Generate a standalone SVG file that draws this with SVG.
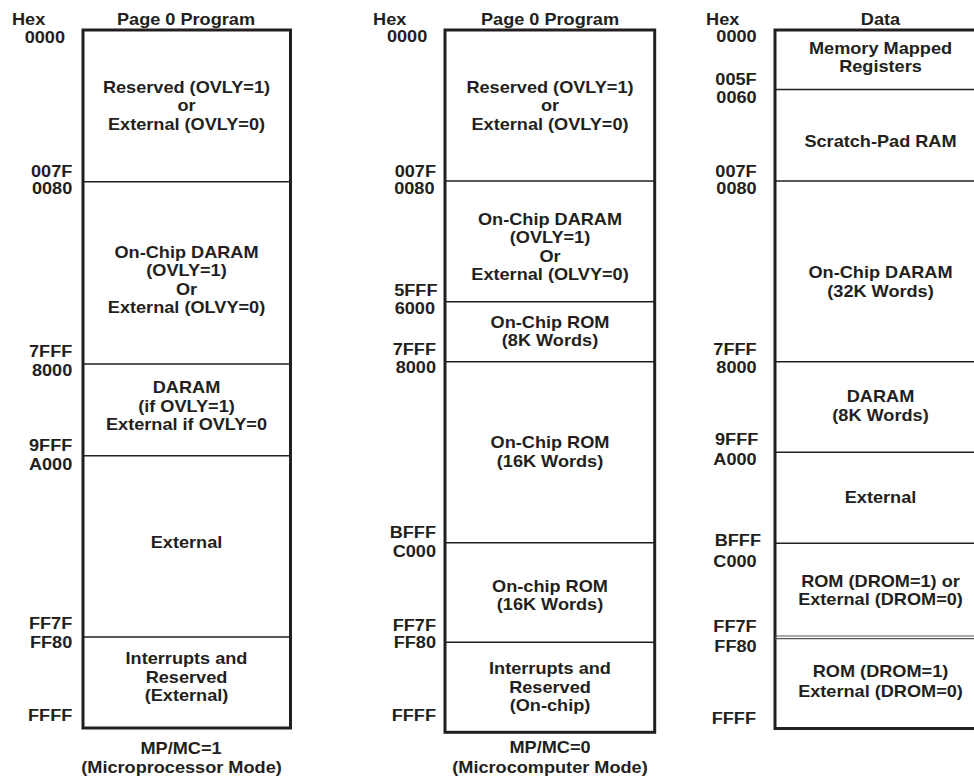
<svg xmlns="http://www.w3.org/2000/svg" width="974" height="780" viewBox="0 0 974 780">
<style>
text{font-family:"Liberation Sans",Arial,sans-serif;font-weight:bold;font-size:16.5px;fill:#231f20}
.c{text-anchor:middle}
.r{text-anchor:end}
.l{text-anchor:start}
.box{fill:#fff;stroke:#231f20;stroke-width:3}
.div{stroke:#231f20;stroke-width:1.5}
.dbl{stroke:#555;stroke-width:1.2}
</style>
<rect width="974" height="780" fill="#fff"/>
<g id="connectors"/>

<g id="panel-microprocessor">
  <rect class="box" x="83" y="30" width="207.5" height="698"/>
  <line class="div" x1="83" y1="181.7" x2="290.5" y2="181.7"/>
  <line class="div" x1="83" y1="364" x2="290.5" y2="364"/>
  <line class="div" x1="83" y1="455.7" x2="290.5" y2="455.7"/>
  <line class="div" x1="83" y1="637" x2="290.5" y2="637"/>
  <g id="p1-header">
    <text class="l" transform="translate(12 25) scale(1.1 1)">Hex</text>
    <text class="c" transform="translate(186 25) scale(1.1 1)">Page 0 Program</text>
  </g>
  <g id="p1-addr">
    <text class="r" transform="translate(65 42.5) scale(1.1 1)">0000</text>
    <text class="r" transform="translate(72.3 176.7) scale(1.1 1)">007F</text>
    <text class="r" transform="translate(72.3 194.3) scale(1.1 1)">0080</text>
    <text class="r" transform="translate(72.3 357.3) scale(1.1 1)">7FFF</text>
    <text class="r" transform="translate(72.3 375.7) scale(1.1 1)">8000</text>
    <text class="r" transform="translate(72.3 451) scale(1.1 1)">9FFF</text>
    <text class="r" transform="translate(72.3 470) scale(1.1 1)">A000</text>
    <text class="r" transform="translate(72.3 629.3) scale(1.1 1)">FF7F</text>
    <text class="r" transform="translate(72.3 647.7) scale(1.1 1)">FF80</text>
    <text class="r" transform="translate(72.3 720.7) scale(1.1 1)">FFFF</text>
  </g>
  <g id="p1-reserved">
    <text class="c" transform="translate(186.5 92.7) scale(1.1 1)">Reserved (OVLY=1)</text>
    <text class="c" transform="translate(186.5 110.7) scale(1.1 1)">or</text>
    <text class="c" transform="translate(186.5 130) scale(1.1 1)">External (OVLY=0)</text>
  </g>
  <g id="p1-daram">
    <text class="c" transform="translate(186.5 257.7) scale(1.1 1)">On-Chip DARAM</text>
    <text class="c" transform="translate(186.5 276.3) scale(1.1 1)">(OVLY=1)</text>
    <text class="c" transform="translate(186.5 295) scale(1.1 1)">Or</text>
    <text class="c" transform="translate(186.5 313.3) scale(1.1 1)">External (OLVY=0)</text>
  </g>
  <g id="p1-daram2">
    <text class="c" transform="translate(186.5 393.3) scale(1.1 1)">DARAM</text>
    <text class="c" transform="translate(186.5 411.7) scale(1.1 1)">(if OVLY=1)</text>
    <text class="c" transform="translate(186.5 430) scale(1.1 1)">External if OVLY=0</text>
  </g>
  <g id="p1-external">
    <text class="c" transform="translate(186.5 547.7) scale(1.1 1)">External</text>
  </g>
  <g id="p1-interrupts">
    <text class="c" transform="translate(186.5 664.3) scale(1.1 1)">Interrupts and</text>
    <text class="c" transform="translate(186.5 683) scale(1.1 1)">Reserved</text>
    <text class="c" transform="translate(186.5 701) scale(1.1 1)">(External)</text>
  </g>
  <g id="p1-caption">
    <text class="c" transform="translate(181 754) scale(1.1 1)">MP/MC=1</text>
    <text class="c" transform="translate(181.5 772.5) scale(1.1 1)">(Microprocessor Mode)</text>
  </g>
</g>

<g id="panel-microcomputer">
  <rect class="box" x="445" y="30" width="209.7" height="702.3"/>
  <line class="div" x1="445" y1="181" x2="654.7" y2="181"/>
  <line class="div" x1="445" y1="301.7" x2="654.7" y2="301.7"/>
  <line class="div" x1="445" y1="361.7" x2="654.7" y2="361.7"/>
  <line class="div" x1="445" y1="542.7" x2="654.7" y2="542.7"/>
  <line class="div" x1="445" y1="642.3" x2="654.7" y2="642.3"/>
  <g id="p2-header">
    <text class="c" transform="translate(389.7 25) scale(1.1 1)">Hex</text>
    <text class="c" transform="translate(550 25) scale(1.1 1)">Page 0 Program</text>
  </g>
  <g id="p2-addr">
    <text class="r" transform="translate(427.3 41.7) scale(1.1 1)">0000</text>
    <text class="r" transform="translate(436 176.7) scale(1.1 1)">007F</text>
    <text class="r" transform="translate(434.5 194.3) scale(1.1 1)">0080</text>
    <text class="r" transform="translate(437.5 295.7) scale(1.1 1)">5FFF</text>
    <text class="r" transform="translate(435 314.3) scale(1.1 1)">6000</text>
    <text class="r" transform="translate(436 355) scale(1.1 1)">7FFF</text>
    <text class="r" transform="translate(436 373.3) scale(1.1 1)">8000</text>
    <text class="r" transform="translate(436 538.3) scale(1.1 1)">BFFF</text>
    <text class="r" transform="translate(436 557.3) scale(1.1 1)">C000</text>
    <text class="r" transform="translate(436 631) scale(1.1 1)">FF7F</text>
    <text class="r" transform="translate(436 648.3) scale(1.1 1)">FF80</text>
    <text class="r" transform="translate(436 720.7) scale(1.1 1)">FFFF</text>
  </g>
  <g id="p2-reserved">
    <text class="c" transform="translate(550 92.7) scale(1.1 1)">Reserved (OVLY=1)</text>
    <text class="c" transform="translate(550 110.7) scale(1.1 1)">or</text>
    <text class="c" transform="translate(550 130) scale(1.1 1)">External (OVLY=0)</text>
  </g>
  <g id="p2-daram">
    <text class="c" transform="translate(550 225) scale(1.1 1)">On-Chip DARAM</text>
    <text class="c" transform="translate(550 243.3) scale(1.1 1)">(OVLY=1)</text>
    <text class="c" transform="translate(550 261.7) scale(1.1 1)">Or</text>
    <text class="c" transform="translate(550 280) scale(1.1 1)">External (OLVY=0)</text>
  </g>
  <g id="p2-rom8k">
    <text class="c" transform="translate(550 327.7) scale(1.1 1)">On-Chip ROM</text>
    <text class="c" transform="translate(550 346) scale(1.1 1)">(8K Words)</text>
  </g>
  <g id="p2-rom16k-a">
    <text class="c" transform="translate(550 448.3) scale(1.1 1)">On-Chip ROM</text>
    <text class="c" transform="translate(550 466.7) scale(1.1 1)">(16K Words)</text>
  </g>
  <g id="p2-rom16k-b">
    <text class="c" transform="translate(550 591.7) scale(1.1 1)">On-chip ROM</text>
    <text class="c" transform="translate(550 610) scale(1.1 1)">(16K Words)</text>
  </g>
  <g id="p2-interrupts">
    <text class="c" transform="translate(550 674) scale(1.1 1)">Interrupts and</text>
    <text class="c" transform="translate(550 692.7) scale(1.1 1)">Reserved</text>
    <text class="c" transform="translate(550 711) scale(1.1 1)">(On-chip)</text>
  </g>
  <g id="p2-caption">
    <text class="c" transform="translate(550 753.3) scale(1.1 1)">MP/MC=0</text>
    <text class="c" transform="translate(550 772.5) scale(1.1 1)">(Microcomputer Mode)</text>
  </g>
</g>

<g id="panel-data">
  <rect class="box" x="775" y="30" width="211" height="698.5"/>
  <line class="div" x1="775" y1="89.5" x2="986" y2="89.5"/>
  <line class="div" x1="775" y1="181" x2="986" y2="181"/>
  <line class="div" x1="775" y1="361.7" x2="986" y2="361.7"/>
  <line class="div" x1="775" y1="452.3" x2="986" y2="452.3"/>
  <line class="div" x1="775" y1="543.3" x2="986" y2="543.3"/>
  <line class="dbl" x1="775" y1="636" x2="986" y2="636"/>
  <line class="dbl" x1="775" y1="638.6" x2="986" y2="638.6"/>
  <g id="p3-header">
    <text class="c" transform="translate(722.7 25) scale(1.1 1)">Hex</text>
    <text class="c" transform="translate(880.5 25) scale(1.1 1)">Data</text>
  </g>
  <g id="p3-addr">
    <text class="r" transform="translate(756.7 41.7) scale(1.1 1)">0000</text>
    <text class="r" transform="translate(756.7 85) scale(1.1 1)">005F</text>
    <text class="r" transform="translate(756.7 103.3) scale(1.1 1)">0060</text>
    <text class="r" transform="translate(756.7 176.7) scale(1.1 1)">007F</text>
    <text class="r" transform="translate(756.7 194.3) scale(1.1 1)">0080</text>
    <text class="r" transform="translate(756.7 355) scale(1.1 1)">7FFF</text>
    <text class="r" transform="translate(756.7 373.3) scale(1.1 1)">8000</text>
    <text class="r" transform="translate(758.3 445) scale(1.1 1)">9FFF</text>
    <text class="r" transform="translate(756.7 465) scale(1.1 1)">A000</text>
    <text class="r" transform="translate(761 545.7) scale(1.1 1)">BFFF</text>
    <text class="r" transform="translate(756.7 566.7) scale(1.1 1)">C000</text>
    <text class="r" transform="translate(756.7 631.7) scale(1.1 1)">FF7F</text>
    <text class="r" transform="translate(756.7 651.7) scale(1.1 1)">FF80</text>
    <text class="r" transform="translate(756 724) scale(1.1 1)">FFFF</text>
  </g>
  <g id="p3-mmr">
    <text class="c" transform="translate(880.5 54.3) scale(1.1 1)">Memory Mapped</text>
    <text class="c" transform="translate(880.5 71.5) scale(1.1 1)">Registers</text>
  </g>
  <g id="p3-scratch">
    <text class="c" transform="translate(880.5 146.7) scale(1.1 1)">Scratch-Pad RAM</text>
  </g>
  <g id="p3-daram32">
    <text class="c" transform="translate(880.5 278.3) scale(1.1 1)">On-Chip DARAM</text>
    <text class="c" transform="translate(880.5 296.7) scale(1.1 1)">(32K Words)</text>
  </g>
  <g id="p3-daram8">
    <text class="c" transform="translate(880.5 402.3) scale(1.1 1)">DARAM</text>
    <text class="c" transform="translate(880.5 420.7) scale(1.1 1)">(8K Words)</text>
  </g>
  <g id="p3-external">
    <text class="c" transform="translate(880.5 503.3) scale(1.1 1)">External</text>
  </g>
  <g id="p3-rom-a">
    <text class="c" transform="translate(880.5 586.7) scale(1.1 1)">ROM (DROM=1) or</text>
    <text class="c" transform="translate(880.5 605) scale(1.1 1)">External (DROM=0)</text>
  </g>
  <g id="p3-rom-b">
    <text class="c" transform="translate(880.5 677.3) scale(1.1 1)">ROM (DROM=1)</text>
    <text class="c" transform="translate(880.5 697.3) scale(1.1 1)">External (DROM=0)</text>
  </g>
</g>
</svg>
